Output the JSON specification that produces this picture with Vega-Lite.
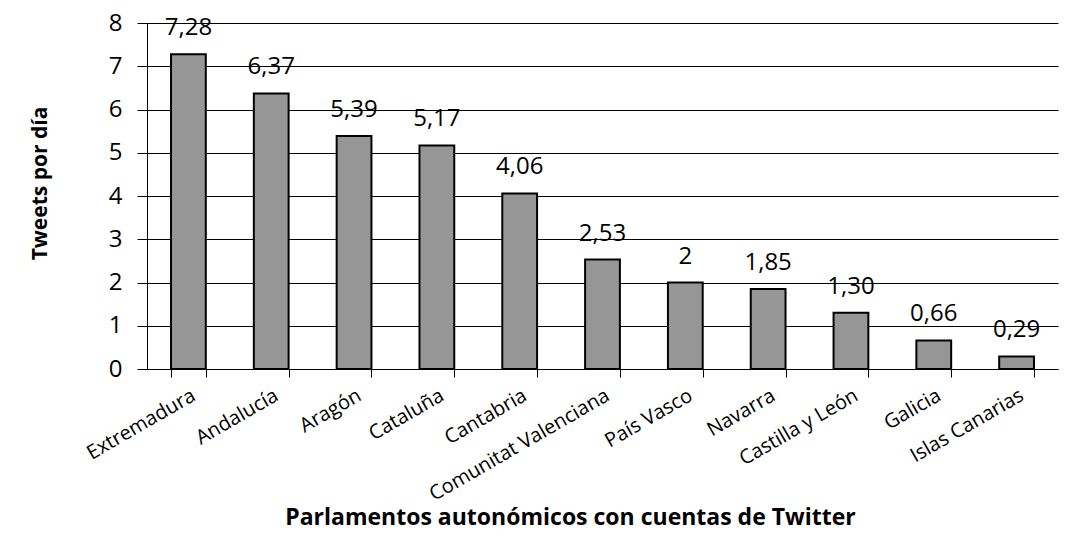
{
  "$schema": "https://vega.github.io/schema/vega-lite/v6.json",
  "autosize": {"type": "none"},
  "width": 911,
  "height": 346,
  "padding": {"left": 147, "top": 23, "right": 24, "bottom": 170},
  "background": "white",
  "config": {
    "font": "Open Sans",
    "view": {"stroke": null}
  },
  "data": {
    "values": [
      {"parlamento": "Extremadura", "tweets": 7.28, "label": "7,28"},
      {"parlamento": "Andalucía", "tweets": 6.37, "label": "6,37"},
      {"parlamento": "Aragón", "tweets": 5.39, "label": "5,39"},
      {"parlamento": "Cataluña", "tweets": 5.17, "label": "5,17"},
      {"parlamento": "Cantabria", "tweets": 4.06, "label": "4,06"},
      {"parlamento": "Comunitat Valenciana", "tweets": 2.53, "label": "2,53"},
      {"parlamento": "País Vasco", "tweets": 2, "label": "2"},
      {"parlamento": "Navarra", "tweets": 1.85, "label": "1,85"},
      {"parlamento": "Castilla y León", "tweets": 1.30, "label": "1,30"},
      {"parlamento": "Galicia", "tweets": 0.66, "label": "0,66"},
      {"parlamento": "Islas Canarias", "tweets": 0.29, "label": "0,29"}
    ]
  },
  "encoding": {
    "x": {
      "field": "parlamento",
      "type": "nominal",
      "sort": null,
      "scale": {"paddingInner": 0.58, "paddingOuter": 0.29},
      "axis": {
        "title": "Parlamentos autonómicos con cuentas de Twitter",
        "titleFontSize": 23,
        "titleFontWeight": "bold",
        "titleColor": "black",
        "titleX": 423,
        "titleY": 148,
        "titleBaseline": "middle",
        "titleAnchor": "middle",
        "labelAngle": -30,
        "labelAlign": "right",
        "labelBaseline": "top",
        "labelFontSize": 20,
        "labelColor": "black",
        "labelPadding": 8,
        "labelLimit": 400,
        "labelOverlap": false,
        "tickBand": "extent",
        "tickSize": 8,
        "tickColor": "black",
        "domainColor": "black",
        "domainWidth": 1,
        "grid": false
      }
    },
    "y": {
      "field": "tweets",
      "type": "quantitative",
      "scale": {"domain": [0, 8], "nice": false},
      "axis": {
        "title": "Tweets por día",
        "titleFontSize": 21,
        "titleFontWeight": "bold",
        "titleColor": "black",
        "titleX": -107,
        "titleY": 160,
        "titleBaseline": "middle",
        "titleAngle": -90,
        "values": [0, 1, 2, 3, 4, 5, 6, 7, 8],
        "labelFontSize": 24,
        "labelColor": "black",
        "labelPadding": 15,
        "tickSize": 10,
        "tickColor": "black",
        "domainColor": "black",
        "grid": true,
        "gridColor": "black",
        "gridOpacity": 1,
        "gridWidth": 1
      }
    }
  },
  "layer": [
    {
      "mark": {"type": "bar", "color": "#969696", "stroke": "black", "strokeWidth": 2}
    },
    {
      "mark": {"type": "text", "fontSize": 24, "baseline": "alphabetic", "dy": -19, "color": "black"},
      "encoding": {"text": {"field": "label"}}
    }
  ]
}
